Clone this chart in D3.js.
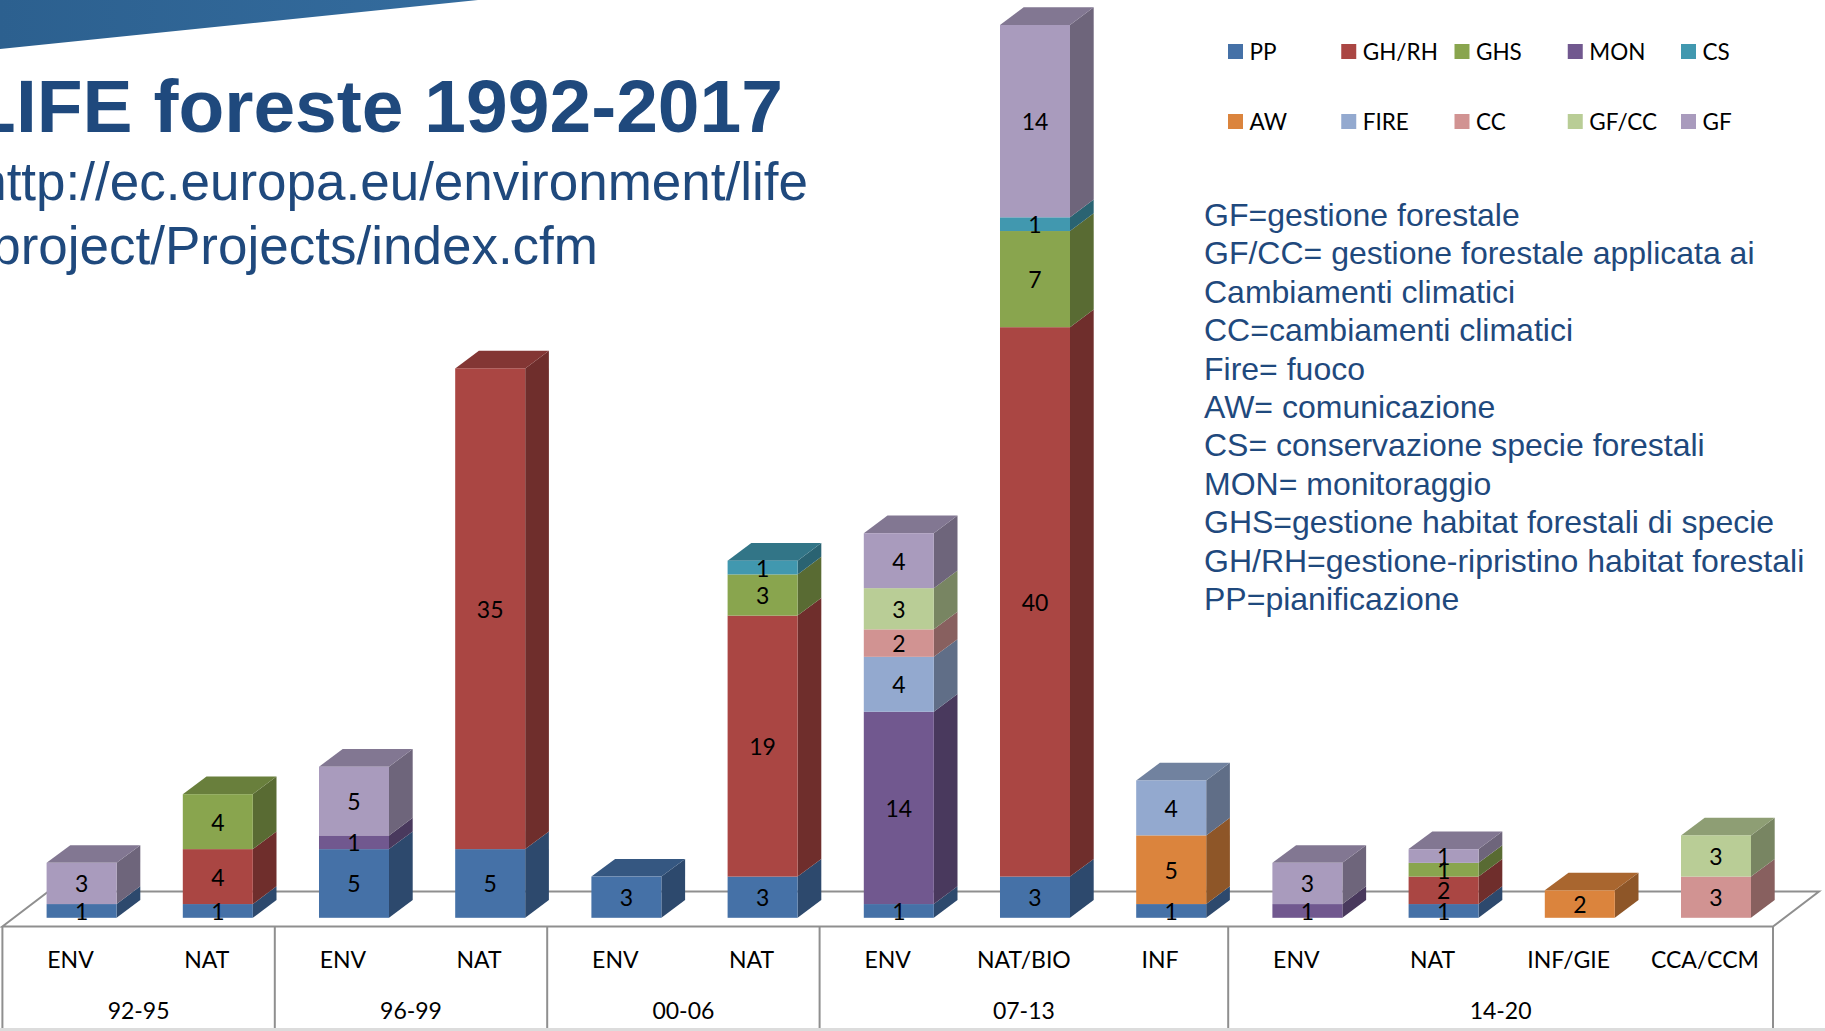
<!DOCTYPE html>
<html>
<head>
<meta charset="utf-8">
<style>
  html, body { margin: 0; padding: 0; background: #fff; overflow: hidden; }
  svg { display: block; }
</style>
<script src="https://d3js.org/d3.v7.min.js"></script>
</head>
<body>
<svg width="1825" height="1031"></svg>
<script>
  const categories = ['ENV', 'NAT', 'ENV', 'NAT', 'ENV', 'NAT', 'ENV', 'NAT/BIO', 'INF', 'ENV', 'NAT', 'INF/GIE', 'CCA/CCM'];
  const periods = ['92-95', '96-99', '00-06', '07-13', '14-20'];
  const periodSizes = [2, 2, 2, 3, 4];

  const seriesNames = ['PP', 'GH/RH', 'GHS', 'MON', 'CS', 'AW', 'FIRE', 'CC', 'GF/CC', 'GF'];
  const seriesColors = ['#4571a7', '#aa4643', '#89a54e', '#71588f', '#4198af', '#db843d', '#93a9cf', '#d19392', '#b9cd96', '#a99bbd'];

  const pp   = [1, 1, 5, 5, 3, 3, 1, 3, 1, 0, 1, 0, 0];
  const ghrh = [0, 4, 0, 35, 0, 19, 0, 40, 0, 0, 2, 0, 0];
  const ghs  = [0, 4, 0, 0, 0, 3, 0, 7, 0, 0, 1, 0, 0];
  const mon  = [0, 0, 1, 0, 0, 0, 14, 0, 0, 1, 0, 0, 0];
  const cs   = [0, 0, 0, 0, 0, 1, 0, 1, 0, 0, 0, 0, 0];
  const aw   = [0, 0, 0, 0, 0, 0, 0, 0, 5, 0, 0, 2, 0];
  const fire = [0, 0, 0, 0, 0, 0, 4, 0, 4, 0, 0, 0, 0];
  const cc   = [0, 0, 0, 0, 0, 0, 2, 0, 0, 0, 0, 0, 3];
  const gfcc = [0, 0, 0, 0, 0, 0, 3, 0, 0, 0, 0, 0, 3];
  const gf   = [3, 0, 5, 0, 0, 0, 4, 14, 0, 3, 1, 0, 0];
  const seriesValues = [pp, ghrh, ghs, mon, cs, aw, fire, cc, gfcc, gf];

  const glossary = [
    'GF=gestione forestale',
    'GF/CC= gestione forestale applicata ai',
    'Cambiamenti climatici',
    'CC=cambiamenti climatici',
    'Fire= fuoco',
    'AW= comunicazione',
    'CS= conservazione specie forestali',
    'MON= monitoraggio',
    'GHS=gestione habitat forestali di specie',
    'GH/RH=gestione-ripristino habitat forestali',
    'PP=pianificazione'
  ];

  const svg = d3.select('svg');
  const labelFont = 'Lato, sans-serif';
  const slideFont = '"Liberation Sans", Arial, sans-serif';
  const slideBlue = '#1f497d';

  // slide decoration, top left
  const grad = svg.append('defs').append('linearGradient').attr('id', 'band');
  grad.append('stop').attr('offset', '0%').attr('stop-color', '#2c608f');
  grad.append('stop').attr('offset', '100%').attr('stop-color', '#346c9e');
  svg.append('path')
    .attr('d', 'M0,0 L478,0 L0,49 Z')
    .attr('fill', 'url(#band)');

  svg.append('text')
    .attr('x', 783).attr('y', 132)
    .attr('text-anchor', 'end')
    .style('font', `bold 75px ${slideFont}`)
    .attr('fill', slideBlue)
    .text('LIFE foreste 1992-2017');
  svg.append('text')
    .attr('x', 808).attr('y', 200)
    .attr('text-anchor', 'end')
    .style('font', `53px ${slideFont}`)
    .attr('fill', slideBlue)
    .text('http://ec.europa.eu/environment/life');
  svg.append('text')
    .attr('x', 598).attr('y', 264)
    .attr('text-anchor', 'end')
    .style('font', `53px ${slideFont}`)
    .attr('fill', slideBlue)
    .text('project/Projects/index.cfm');

  svg.selectAll('.glossary').data(glossary).enter().append('text')
    .attr('class', 'glossary')
    .attr('x', 1204)
    .attr('y', (d, i) => 226 + i * 38.4)
    .style('font', `32px ${slideFont}`)
    .attr('fill', slideBlue)
    .text(d => d);

  // chart geometry
  const depthX = 23.7, depthY = 17.7;
  const floorX = 46, floorY = 35;
  const frontY = 926.5, tableBottom = 1028;
  const baseline = 917.8;

  const xScale = d3.scaleBand()
    .domain(d3.range(categories.length))
    .range([2.4, 1773])
    .paddingInner(0.486)
    .paddingOuter(0.243);

  const yScale = d3.scaleLinear()
    .domain([0, 65])
    .range([baseline, 25]);

  const stacked = d3.stack()
    .keys(d3.range(seriesNames.length))
    .value((d, key) => seriesValues[key][d])(d3.range(categories.length));

  const lineColor = '#8f8f8f';
  const barShift = 11.1;
  const barX = i => xScale(i) + barShift;
  const bw = xScale.bandwidth();

  // floor and table
  const x0 = xScale.range()[0], x1 = xScale.range()[1];
  svg.append('rect').attr('x', 0).attr('y', tableBottom).attr('width', 1825).attr('height', 3).attr('fill', '#dcdcdc');
  svg.append('path')
    .attr('d', `M${x0},${frontY} L${x0 + floorX},${frontY - floorY} L${x1 + floorX},${frontY - floorY} L${x1},${frontY} Z`)
    .attr('fill', 'none')
    .attr('stroke', lineColor)
    .attr('stroke-width', 2);

  const dividers = [0].concat(Array.from(d3.cumsum(periodSizes)));
  svg.selectAll('.divider').data(dividers).enter().append('line')
    .attr('class', 'divider')
    .attr('x1', d => x0 + d * xScale.step())
    .attr('x2', d => x0 + d * xScale.step())
    .attr('y1', frontY)
    .attr('y2', tableBottom)
    .attr('stroke', lineColor)
    .attr('stroke-width', 2);

  const xAxis = d3.axisBottom(xScale)
    .tickSize(0)
    .tickPadding(0)
    .tickFormat(i => categories[i]);
  const xAxisG = svg.append('g')
    .attr('transform', 'translate(0,952)')
    .call(xAxis);
  xAxisG.select('.domain').remove();
  xAxisG.selectAll('text')
    .style('font', `23px ${labelFont}`)
    .attr('fill', '#000')
    .attr('dy', '0.71em');

  svg.selectAll('.period').data(periods).enter().append('text')
    .attr('class', 'period')
    .attr('x', (d, i) => x0 + (dividers[i] + dividers[i + 1]) / 2 * xScale.step())
    .attr('y', 1019)
    .attr('text-anchor', 'middle')
    .style('font', `23px ${labelFont}`)
    .attr('fill', '#000')
    .text(d => d);

  const shade = (c, k) => {
    const rgb = d3.rgb(c);
    return d3.rgb(rgb.r * k, rgb.g * k, rgb.b * k).formatHex();
  };

  // flatten the stack to one row per non empty segment
  const segments = [];
  stacked.forEach((layer, s) => {
    layer.forEach((p, i) => {
      if (p[1] > p[0]) segments.push({ s, i, y0: p[0], y1: p[1], value: p[1] - p[0] });
    });
  });
  const totals = d3.range(categories.length).map(i => d3.sum(seriesValues, v => v[i]));

  const segG = svg.selectAll('.seg').data(segments).enter().append('g').attr('class', 'seg');

  segG.append('path')
    .attr('d', d => {
      const x = barX(d.i) + bw, a = yScale(d.y0), b = yScale(d.y1);
      return `M${x},${a} L${x + depthX},${a - depthY} L${x + depthX},${b - depthY} L${x},${b} Z`;
    })
    .attr('fill', d => shade(seriesColors[d.s], 0.65));

  segG.filter(d => d.y1 === totals[d.i]).append('path')
    .attr('d', d => {
      const x = barX(d.i), b = yScale(d.y1);
      return `M${x},${b} L${x + depthX},${b - depthY} L${x + bw + depthX},${b - depthY} L${x + bw},${b} Z`;
    })
    .attr('fill', d => shade(seriesColors[d.s], 0.77));

  segG.append('rect')
    .attr('x', d => barX(d.i))
    .attr('y', d => yScale(d.y1))
    .attr('width', bw)
    .attr('height', d => yScale(d.y0) - yScale(d.y1))
    .attr('fill', d => seriesColors[d.s]);

  svg.selectAll('.value').data(segments).enter().append('text')
    .attr('class', 'value')
    .attr('x', d => barX(d.i) + bw / 2)
    .attr('y', d => (yScale(d.y0) + yScale(d.y1)) / 2 + 9)
    .attr('text-anchor', 'middle')
    .style('font', `23px ${labelFont}`)
    .attr('fill', '#000')
    .text(d => d.value);

  // legend, two rows of five
  const legendX = d3.scalePoint().domain(d3.range(5)).range([1228, 1681]);
  const legendY = d3.scalePoint().domain([0, 1]).range([44, 114]);
  const legend = svg.selectAll('.legend').data(seriesNames).enter().append('g')
    .attr('class', 'legend')
    .attr('transform', (d, i) => `translate(${legendX(i % 5)},${legendY(Math.floor(i / 5))})`);
  legend.append('rect')
    .attr('width', 15).attr('height', 15)
    .attr('fill', (d, i) => seriesColors[i]);
  legend.append('text')
    .attr('x', 21.5).attr('y', 15.5)
    .style('font', `22.5px ${labelFont}`)
    .attr('fill', '#000')
    .text(d => d);
</script>
</body>
</html>
